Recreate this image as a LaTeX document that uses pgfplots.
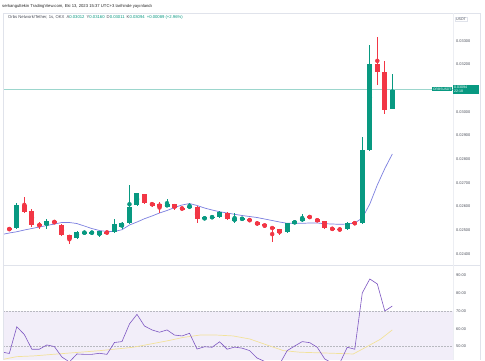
\documentclass[border=0pt]{standalone}
\usepackage{pgfplots}
\pgfplotsset{compat=1.18}
\usepackage{pgfplotstable}
\usepackage{fontspec}
\setmainfont{Liberation Sans}
\definecolor{up}{HTML}{089981}
\definecolor{dn}{HTML}{F23645}
\definecolor{ma}{HTML}{7B7FE0}
\definecolor{rsi}{HTML}{7E57C2}
\definecolor{rsima}{HTML}{F2E29A}
\definecolor{band}{HTML}{F2EEF9}
\definecolor{lvl}{HTML}{B8B9C0}
\definecolor{frame}{HTML}{E0E3EB}
\definecolor{txt}{HTML}{4A4E59}

\pgfplotstableread{
i o h l c
-1 0.024760 0.025098 0.024718 0.025055
1 0.025085 0.026165 0.025055 0.026068
5 0.025237 0.025465 0.025068 0.025380
9 0.024676 0.024971 0.024655 0.024941
10 0.024880 0.024930 0.024875 0.024920
11 0.024880 0.024930 0.024875 0.024920
12 0.024790 0.024992 0.024705 0.024959
14 0.024916 0.025465 0.024895 0.025266
15 0.025152 0.025351 0.025043 0.025321
16 0.025296 0.026912 0.025287 0.025996
17 0.026068 0.026587 0.026047 0.026562
21 0.025996 0.026308 0.025984 0.026110
24 0.025941 0.026140 0.025920 0.026039
26 0.025465 0.025570 0.025444 0.025549
27 0.025532 0.025590 0.025520 0.025574
28 0.025549 0.025815 0.025528 0.025773
30 0.025380 0.025718 0.025321 0.025507
31 0.025465 0.025515 0.025460 0.025505
37 0.024916 0.025309 0.024895 0.025296
38 0.025279 0.025414 0.025266 0.025393
39 0.025380 0.025676 0.025359 0.025532
45 0.025043 0.025372 0.025022 0.025321
47 0.025296 0.028950 0.025266 0.028388
48 0.028388 0.032818 0.028367 0.032004
51 0.030120 0.031600 0.030110 0.030940
}\upt

\pgfplotstableread{
i o h l c
0 0.025085 0.025140 0.024971 0.025013
2 0.026068 0.026418 0.025731 0.025760
3 0.025828 0.025899 0.025152 0.025224
4 0.025254 0.025363 0.025055 0.025195
6 0.025380 0.025448 0.025266 0.025296
7 0.025224 0.025246 0.024760 0.024790
8 0.024802 0.024823 0.024423 0.024646
13 0.024941 0.024962 0.024853 0.024874
18 0.026532 0.026553 0.026110 0.026165
19 0.026165 0.026195 0.026005 0.026039
20 0.026098 0.026207 0.025718 0.025996
22 0.026110 0.026131 0.025857 0.025929
23 0.025954 0.025975 0.025865 0.025887
25 0.025996 0.026026 0.025321 0.025465
29 0.025743 0.025764 0.025435 0.025465
32 0.025477 0.025499 0.025351 0.025393
33 0.025363 0.025393 0.025182 0.025224
34 0.025254 0.025266 0.025119 0.025169
35 0.025140 0.025161 0.024520 0.025055
36 0.025055 0.025076 0.024802 0.024874
40 0.025604 0.025625 0.025499 0.025519
41 0.025490 0.025511 0.025338 0.025363
42 0.025380 0.025393 0.025055 0.025085
43 0.025085 0.025095 0.025030 0.025043
44 0.025055 0.025060 0.025010 0.025015
46 0.025338 0.025351 0.025245 0.025266
49 0.032004 0.033169 0.031131 0.031692
50 0.031667 0.032156 0.029907 0.030076
}\dnt

\pgfplotstableread{
i v
-1 0.024824
0 0.024887
1 0.024941
2 0.025013
3 0.025076
4 0.025140
5 0.025203
6 0.025266
7 0.025330
8 0.025330
9 0.025287
10 0.025182
11 0.025076
12 0.024992
13 0.024950
14 0.024950
15 0.025026
16 0.025224
17 0.025351
18 0.025490
19 0.025604
20 0.025731
21 0.025836
22 0.025962
23 0.026068
24 0.026131
25 0.026047
26 0.025941
27 0.025857
28 0.025785
29 0.025731
30 0.025676
31 0.025625
32 0.025583
33 0.025540
34 0.025477
35 0.025414
36 0.025351
37 0.025296
38 0.025296
39 0.025296
40 0.025309
41 0.025309
42 0.025279
43 0.025266
44 0.025254
45 0.025266
46 0.025309
47 0.025519
48 0.026110
49 0.026912
50 0.027608
51 0.028220
}\mat

\pgfplotstableread{
i r
-1 46.8
0 46.0
1 61.1
2 56.7
3 48.4
4 48.4
5 50.8
6 49.9
7 44.0
8 41.2
9 45.7
10 45.5
11 45.5
12 46.1
13 45.5
14 52.2
15 52.7
16 62.7
17 68.1
18 61.5
19 59.3
20 58.0
21 59.3
22 56.4
23 55.9
24 57.4
25 48.5
26 49.8
27 49.5
28 52.6
29 48.4
30 49.6
31 49.0
32 47.6
33 43.4
34 41.5
35 40.5
36 40.0
37 47.6
38 50.2
39 52.7
40 52.1
41 49.5
42 42.9
43 40.5
44 40.5
45 49.5
46 48.4
47 80.2
48 88.1
49 85.3
50 70.0
51 72.8
}\rsit

\pgfplotstableread{
i r
-1.24 42.3
1 44.2
3.2 44.6
7.6 46.1
12.1 47.6
16.5 49.5
21 53.1
23.2 55.1
25.4 56.4
27.6 56.4
29.8 55.9
32 54.2
34.3 50.8
36.5 47.6
38.7 46.7
43.1 46.1
45.8 45.7
47.6 49.8
49.4 54.0
51 59.3
}\rsimat

\begin{document}
\begin{tikzpicture}
\path[use as bounding box, fill=white] (0pt,0pt) rectangle (485pt,360pt);

\begin{axis}[at={(3pt,95pt)}, anchor=south west, width=450pt, height=252pt, scale only axis,
  xmin=-0.84, xmax=59.08, ymin=0.023537, ymax=0.034169,
  axis line style={draw=none}, tick style={draw=none},
  xtick=\empty, scaled y ticks=false, scaled x ticks=false,
  ytick={0.024,0.025,0.026,0.027,0.028,0.029,0.030,0.032,0.033},
  yticklabels={0.02400,0.02500,0.02600,0.02700,0.02800,0.02900,0.03000,0.03200,0.03300},
  yticklabel pos=right,
  yticklabel style={font=\fontsize{3.9}{4}\selectfont, text=txt, anchor=west, inner sep=0pt, xshift=3pt},
  ]
  \addplot[color=up!40, line width=0.5pt, forget plot] coordinates {(-0.84,0.03094) (59.08,0.03094)};
  \addplot[ma, line width=0.7pt, mark=none] table[x=i, y=v] {\mat};
  % wicks
  \addplot[up, only marks, mark=none, error bars/.cd, y dir=both, y explicit,
    error bar style={line width=0.8pt, up}, error mark=none]
    table[x=i, y expr={(\thisrow{h}+\thisrow{l})/2}, y error expr={(\thisrow{h}-\thisrow{l})/2}] {\upt};
  \addplot[dn, only marks, mark=none, error bars/.cd, y dir=both, y explicit,
    error bar style={line width=0.8pt, dn}, error mark=none]
    table[x=i, y expr={(\thisrow{h}+\thisrow{l})/2}, y error expr={(\thisrow{h}-\thisrow{l})/2}] {\dnt};
  % bodies
  \addplot[up, only marks, mark=none, error bars/.cd, y dir=both, y explicit,
    error bar style={line width=5pt, up}, error mark=none]
    table[x=i, y expr={(\thisrow{o}+\thisrow{c})/2}, y error expr={abs(\thisrow{c}-\thisrow{o})/2}] {\upt};
  \addplot[dn, only marks, mark=none, error bars/.cd, y dir=both, y explicit,
    error bar style={line width=5pt, dn}, error mark=none]
    table[x=i, y expr={(\thisrow{o}+\thisrow{c})/2}, y error expr={abs(\thisrow{c}-\thisrow{o})/2}] {\dnt};
\end{axis}

\begin{axis}[at={(3pt,0pt)}, anchor=south west, width=450pt, height=95pt, scale only axis,
  xmin=-0.84, xmax=59.08, ymin=42.3, ymax=96.0,
  axis line style={draw=none}, tick style={draw=none},
  xtick=\empty, scaled y ticks=false,
  ytick={50,60,70,80,90},
  yticklabels={50.00,60.00,70.00,80.00,90.00},
  yticklabel pos=right,
  yticklabel style={font=\fontsize{3.9}{4}\selectfont, text=txt, anchor=west, inner sep=0pt, xshift=3pt},
  ]
  \addplot[draw=none, fill=band, forget plot] coordinates {(-0.84,70) (59.08,70)} \closedcycle;
  \addplot[lvl, dash pattern=on 1.5pt off 1.5pt, line width=0.5pt] coordinates {(-0.84,70) (59.08,70)};
  \addplot[lvl, dash pattern=on 1.5pt off 1.5pt, line width=0.5pt] coordinates {(-0.84,50) (59.08,50)};
  \addplot[rsima, line width=0.7pt, mark=none] table[x=i, y=r] {\rsimat};
  \addplot[rsi, line width=0.6pt, mark=none] table[x=i, y=r] {\rsit};
\end{axis}

% frame
\draw[frame, line width=0.6pt] (3pt,347pt) -- (480pt,347pt);
\draw[frame, line width=0.6pt] (3pt,0pt) -- (3pt,347pt);
\draw[frame, line width=0.6pt] (480pt,0pt) -- (480pt,347pt);
\draw[frame, line width=0.6pt] (3pt,95pt) -- (480pt,95pt);
\draw[frame!60, line width=0.4pt] (453pt,0pt) -- (453pt,347pt);

% header and title
\node[anchor=west, inner sep=0pt, font=\fontsize{4.2}{5}\selectfont, text=black!85] at (2pt,354pt) {serkangultekin TradingView.com, Eki 13, 2023 15:37 UTC+3 tarihinde yayınlandı};
\node[anchor=west, inner sep=0pt, font=\fontsize{4.2}{5}\selectfont, text=txt] at (8pt,343pt) {Orbs Network/Tether, 1s, OKX\enspace A\textcolor{up}{0.03012}\enspace Y\textcolor{up}{0.03160}\enspace D\textcolor{up}{0.03011}\enspace K\textcolor{up}{0.03094}\enspace \textcolor{up}{+0.00089 (+2.96\%)}};

% scale unit box
\node[draw=frame, fill=white, inner sep=1pt, font=\fontsize{3.6}{4}\selectfont, text=txt] at (461pt,341pt) {USDT};

% last price labels
\node[fill=up, text=white, inner sep=0.8pt, anchor=east, font=\fontsize{3.3}{3.6}\selectfont] at (452.5pt,271pt) {ORBSUSDT};
\node[fill=up, text=white, inner sep=1pt, anchor=north west, align=left, text width=24pt, font=\fontsize{3.6}{4.6}\selectfont] at (453pt,275.5pt) {0.03094\\22:18};
\end{tikzpicture}
\end{document}
